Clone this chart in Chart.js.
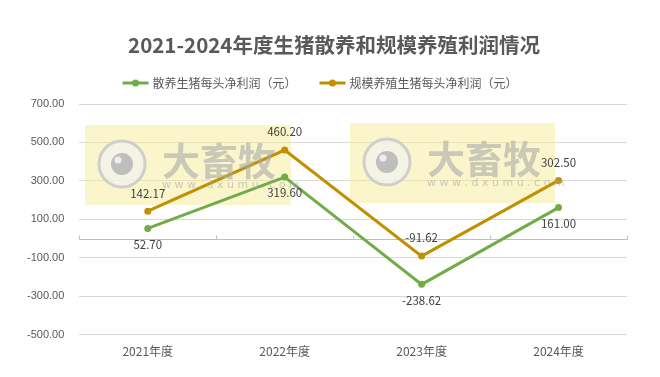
<!DOCTYPE html>
<html><head><meta charset="utf-8">
<script src="https://cdn.jsdelivr.net/npm/chart.js@4"></script>
<style>html,body{margin:0;padding:0;background:#fff;}#wrap{width:660px;height:377px;}</style>
</head><body><div id="wrap"><canvas id="c" width="660" height="377"></canvas></div>
<script>
const categories = ['2021年度','2022年度','2023年度','2024年度'];
const seriesNames = ['散养生猪每头净利润（元）','规模养殖生猪每头净利润（元）'];
const freeRange = [52.70, 319.60, -238.62, 161.00];
const largeScale = [142.17, 460.20, -91.62, 302.50];
const yTicks = [-500, -300, -100, 100, 300, 500, 700];
const titleText = '2021-2024年度生猪散养和规模养殖利润情况';

const GREEN = '#70AD47', GOLD = '#BF9000', TXT = '#595959';
const FONT = '"Noto Sans CJK SC", "Noto Sans", sans-serif';
const WM_BOXES = [[85,125,206,80],[350,123,205,80]];

const watermark = {
  id:'watermark',
  beforeDatasetsDraw(chart){
    const c = chart.ctx;
    c.save();
    WM_BOXES.forEach(([x,y,w,h])=>{
      c.fillStyle = 'rgba(245,236,150,0.5)';
      c.fillRect(x,y,w,h);
    });
    c.restore();
  },
  afterDatasetsDraw(chart){
    const c = chart.ctx;
    c.save();
    WM_BOXES.forEach(([x,y,w,h])=>{
      const cx = x+37, cy = y+39;
      c.fillStyle = 'rgba(242,242,242,0.7)';
      c.beginPath(); c.arc(cx,cy,23,0,Math.PI*2); c.fill();
      c.strokeStyle = 'rgba(200,200,200,0.85)'; c.lineWidth = 3;
      c.beginPath(); c.arc(cx,cy,23,0,Math.PI*2); c.stroke();
      c.fillStyle = 'rgba(185,185,185,0.9)';
      c.beginPath(); c.arc(cx,cy,11,0,Math.PI*2); c.fill();
      c.fillStyle = 'rgba(238,238,238,1)';
      c.beginPath(); c.arc(cx-4,cy-4,3.5,0,Math.PI*2); c.fill();
      c.fillStyle = 'rgba(170,170,170,0.6)';
      c.font = 'bold 38px ' + FONT;
      c.textAlign = 'left'; c.textBaseline = 'middle';
      c.fillText('大畜牧', x+77, cy-3);
      c.font = '11px "DejaVu Sans", sans-serif';
      c.fillStyle = 'rgba(170,170,170,0.6)';
      c.fillText('w w w . d x u m u . c o m', x+77, cy+21);
    });
    c.restore();
  }
};

const zeroAxis = {
  id:'zeroAxis',
  beforeDatasetsDraw(chart){
    const c = chart.ctx, y0 = Math.round(chart.scales.y.getPixelForValue(0))+0.5;
    const xs = chart.scales.x, a = chart.chartArea;
    const step = xs.getPixelForValue(1)-xs.getPixelForValue(0);
    c.save();
    c.strokeStyle = '#BFBFBF'; c.lineWidth = 1;
    c.beginPath(); c.moveTo(a.left,y0); c.lineTo(a.right,y0);
    for(let i=0;i<=categories.length;i++){
      const px = Math.round(xs.getPixelForValue(0) - step/2 + i*step)+0.5;
      c.moveTo(px,y0); c.lineTo(px,y0-4);
    }
    c.stroke(); c.restore();
  }
};

const pointLabels = {
  id:'pointLabels',
  afterDatasetsDraw(chart){
    const c = chart.ctx;
    c.save();
    c.font = '11.5px ' + FONT; c.fillStyle = '#404040'; c.textAlign = 'center'; c.textBaseline='middle';
    chart.data.datasets.forEach((ds,di)=>{
      const meta = chart.getDatasetMeta(di);
      meta.data.forEach((pt,i)=>{
        const txt = ds.data[i].toFixed(2);
        if(di===0){ c.fillText(txt, pt.x, pt.y+16); }
        else { c.fillText(txt, pt.x, pt.y-18); }
      });
    });
    c.restore();
  }
};

const titleLegend = {
  id:'titleLegend',
  afterDraw(chart){
    const c = chart.ctx;
    c.save();
    c.fillStyle = TXT; c.textAlign='center'; c.textBaseline='middle';
    c.font = 'bold 20.5px ' + FONT;
    c.fillText(titleText, 334, 45);
    c.font = '12px ' + FONT;
    const markW = 26, gapT = 4, gapItem = 23;
    const items = chart.data.datasets.map(ds=>({label:ds.label, color:ds.borderColor, w:c.measureText(ds.label).width}));
    const total = items.reduce((s,it)=>s+markW+gapT+it.w,0) + gapItem*(items.length-1);
    let x = 320 - total/2; const y = 83;
    items.forEach(it=>{
      c.strokeStyle = it.color; c.lineWidth = 3;
      c.beginPath(); c.moveTo(x,y); c.lineTo(x+markW,y); c.stroke();
      c.fillStyle = it.color; c.beginPath(); c.arc(x+markW/2,y,3.5,0,Math.PI*2); c.fill();
      c.fillStyle = TXT; c.textAlign='left';
      c.fillText(it.label, x+markW+gapT, y);
      x += markW+gapT+it.w+gapItem;
    });
    c.restore();
  }
};

new Chart(document.getElementById('c'), {
  type:'line',
  data:{
    labels: categories,
    datasets:[
      {label:seriesNames[0], data:freeRange, borderColor:GREEN, backgroundColor:GREEN, borderWidth:3,
       pointRadius:3.5, pointBackgroundColor:GREEN, pointBorderWidth:0, tension:0},
      {label:seriesNames[1], data:largeScale, borderColor:GOLD, backgroundColor:GOLD, borderWidth:3,
       pointRadius:3.5, pointBackgroundColor:GOLD, pointBorderWidth:0, tension:0}
    ]
  },
  options:{
    responsive:false, animation:false, devicePixelRatio:1,
    layout:{padding:{left:12,right:33,top:104,bottom:8}},
    plugins:{ title:{display:false}, legend:{display:false}, tooltip:{enabled:false} },
    scales:{
      x:{offset:true, grid:{display:false, drawTicks:false, offset:true}, border:{display:false},
         ticks:{color:TXT, font:{family:FONT,size:12}, padding:10}},
      y:{min:-500, max:700, afterBuildTicks(s){ s.ticks = yTicks.map(v=>({value:v})); },
         grid:{color:'#D9D9D9', drawTicks:false}, border:{display:false},
         ticks:{color:TXT, font:{family:'"Liberation Sans", sans-serif',size:11}, padding:15, callback:v=>Number(v).toFixed(2)}}
    }
  },
  plugins:[zeroAxis, watermark, pointLabels, titleLegend]
});
</script></body></html>
